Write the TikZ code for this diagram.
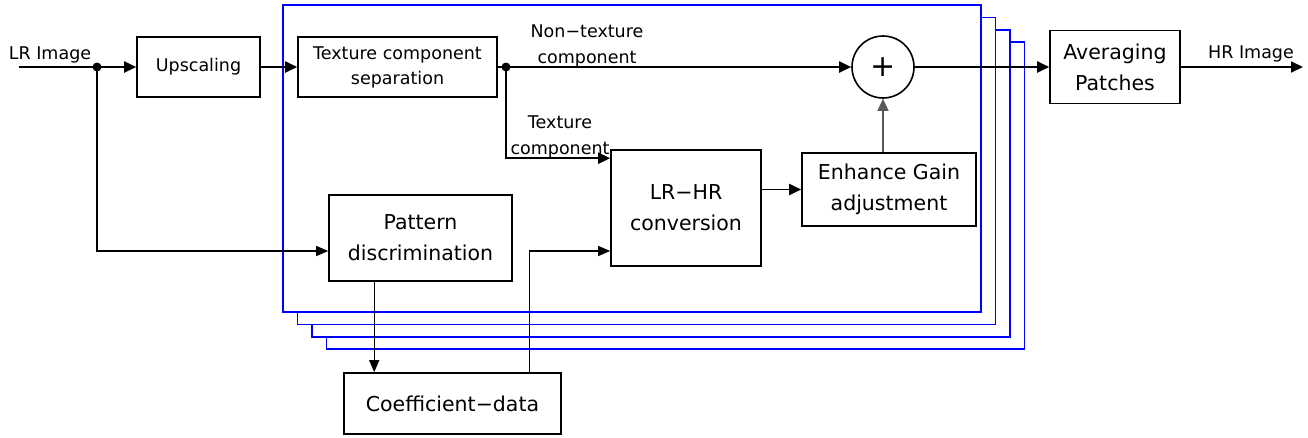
\documentclass[tikz,border=0pt]{standalone}
\usepackage{fontspec}
\setmainfont{DejaVu Sans}
\usetikzlibrary{arrows.meta,calc}
\begin{document}
\begin{tikzpicture}[x=1pt,y=-1pt,
  >={Triangle[length=12pt,width=11pt]},
  blk/.style={draw=black,line width=1.6pt,fill=white,inner sep=0pt,align=center,
    font=\fontsize{20.5}{31}\selectfont},
  sblk/.style={blk,font=\fontsize{17.5}{25}\selectfont},
  lbl/.style={inner sep=0pt,align=center,font=\fontsize{17.5}{26}\selectfont},
  conn/.style={line width=1.9pt,->},
  thinconn/.style={line width=1.1pt,->,>={Triangle[length=12pt,width=10pt]}},
  frontframe/.style={draw=blue,line width=2.4pt,fill=white},
  backframe/.style={draw=blue,line width=1.5pt,fill=white},
  dot/.style={circle,fill=black,inner sep=0pt,minimum size=9pt}
]
\useasboundingbox (0,0) rectangle (1308,437);
% stacked frames
\draw[backframe] (283+43.5,5+37.2) rectangle (981+43.5,312+37.2);
\draw[backframe] (283+29,5+24.8) rectangle (981+29,312+24.8);
\draw[backframe] (283+14.5,5+12.4) rectangle (981+14.5,312+12.4);
\draw[frontframe] (283,5) rectangle (981,312);

% blocks
\node[sblk,minimum width=123pt,minimum height=60pt] (up) at (198.5,67) {Upscaling};
\node[sblk,minimum width=199pt,minimum height=60pt] (tcs) at (397.5,67) {Texture component\\separation};
\node[draw=black,line width=1.6pt,circle,minimum size=62pt,inner sep=0pt,
  font=\fontsize{30}{30}\selectfont] (sum) at (883,67) {+};
\node[blk,minimum width=130pt,minimum height=73pt] (avg) at (1115,67) {Averaging\\Patches};
\node[blk,minimum width=150pt,minimum height=116pt] (lrhr) at (686,208) {LR−HR\\conversion};
\node[blk,minimum width=174pt,minimum height=73pt] (enh) at (889,189.5) {Enhance Gain\\adjustment};
\node[blk,minimum width=183pt,minimum height=86pt] (pat) at (420.5,238) {Pattern\\discrimination};
\node[blk,minimum width=217pt,minimum height=61pt] (coef) at (452.5,403.5) {Coefficient−data};

% junctions and free ends
\node[dot] (d1) at (97,67) {};
\node[dot] (d2) at (506,67) {};
\coordinate (lrin) at (19,67);
\coordinate (hrout) at (1303,67);
\coordinate (pa) at ($(pat.south west)+(46,0)$);
\coordinate (ca) at ($(coef.north west)+(186,0)$);

% labels
\node[lbl,anchor=base] (lrlbl) at (50,59) {LR Image};
\node[lbl,anchor=base] (hrlbl) at (1251,58) {HR Image};
\node[lbl] (ntl) at (587,46) {Non−texture\\component};
\node[lbl] (tl) at (560,137) {Texture\\component};

% connectors
\draw[line width=1.9pt] (lrin) -- (d1.center);
\draw[conn] (d1.center) -- (up.west);
\draw[conn] (up.east) -- (tcs.west);
\draw[line width=1.9pt] (tcs.east) -- (d2.center);
\draw[conn] (d2.center) -- (sum.west);
\draw[conn] (d2.center) |- ($(lrhr.north west)+(0,9)$);
\draw[conn] (sum.east) -- (avg.west);
\draw[conn] (avg.east) -- (hrout);
\draw[conn,draw=black!65,line width=1.4pt] (sum.south |- enh.north) -- (sum.south);
\draw[conn] (lrhr.east |- enh.west) -- (enh.west);
\draw[thinconn] (d1.center) |- ($(pat.west)+(0,13)$);
\draw[thinconn] (pa) -- (pa |- coef.north);
\draw[thinconn] (ca) |- ($(lrhr.west)+(0,43)$);
\end{tikzpicture}
\end{document}
